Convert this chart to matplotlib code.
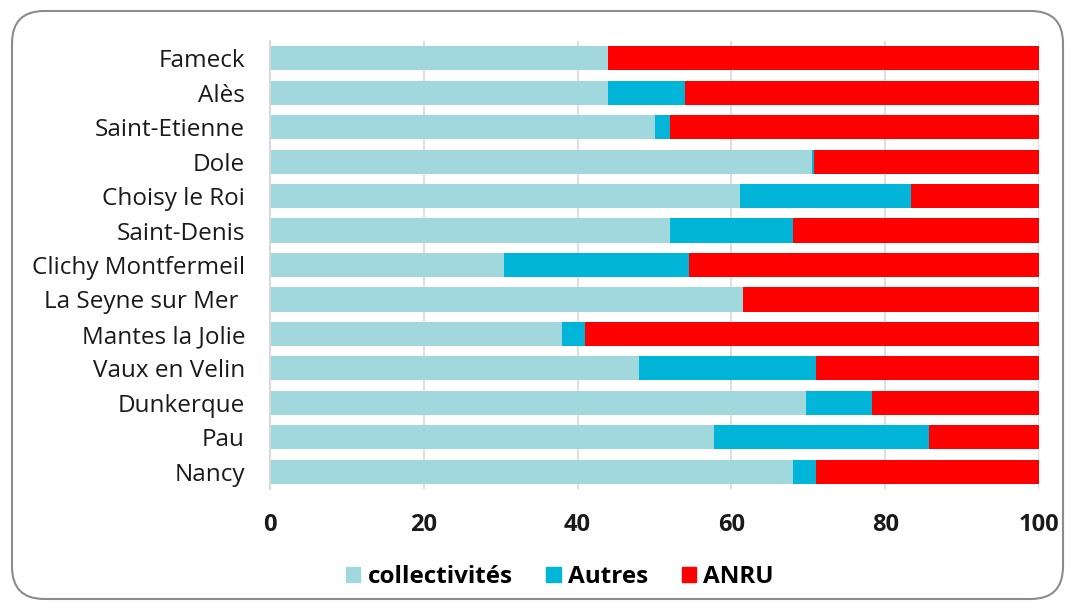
import matplotlib
matplotlib.use("Agg")
import matplotlib.pyplot as plt
from matplotlib.patches import FancyBboxPatch, Patch

plt.rcParams['font.family'] = ['Open Sans', 'DejaVu Sans']

cities = ["Fameck", "Alès", "Saint-Etienne", "Dole", "Choisy le Roi", "Saint-Denis",
          "Clichy Montfermeil", "La Seyne sur Mer ", "Mantes la Jolie", "Vaux en Velin",
          "Dunkerque", "Pau", "Nancy"]
collectivites = [44, 44, 50, 70.5, 61.1, 52, 30.4, 61.5, 38, 48, 69.7, 57.7, 68]
autres = [0, 10, 2, 0.2, 22.2, 16, 24.1, 0, 3, 23, 8.6, 28, 3]
anru = [56, 46, 48, 29.3, 16.7, 32, 45.5, 38.5, 59, 29, 21.7, 14.3, 29]
xticks = [0, 20, 40, 60, 80, 100]

c_coll = "#A0D8DE"
c_aut = "#00B5D8"
c_anru = "#FF0000"

fig = plt.figure(figsize=(10.75, 6.09), dpi=100)
ax = fig.add_axes([270/1075, 1-489/609, (1039-270)/1075, (489-41)/609])

y = list(range(len(cities)))
left2 = [a + b for a, b in zip(collectivites, autres)]
ax.barh(y, collectivites, height=0.7, color=c_coll, label="collectivités", zorder=2)
ax.barh(y, autres, left=collectivites, height=0.7, color=c_aut, label="Autres", zorder=2)
ax.barh(y, anru, left=left2, height=0.7, color=c_anru, label="ANRU", zorder=2)

ax.set_ylim(len(cities) - 0.5, -0.5)
ax.set_xlim(0, 100)
ax.set_yticks(y)
ax.set_yticklabels(cities, fontsize=17.5, color="#1a1a1a")
ax.set_xticks(xticks)
ax.set_xticklabels([str(t) for t in xticks], fontsize=17, fontweight="bold", color="#1a1a1a")
ax.tick_params(axis='y', length=0, pad=18)
ax.tick_params(axis='x', length=0, pad=17)
ax.grid(axis='x', color="#d9d9d9", linewidth=1.2, zorder=0)
for s in ["top", "right", "bottom"]:
    ax.spines[s].set_visible(False)
ax.spines["left"].set_color("#d9d9d9")
ax.spines["left"].set_linewidth(1.5)

handles = [Patch(color=c_coll, label="collectivités"),
           Patch(color=c_aut, label="Autres"),
           Patch(color=c_anru, label="ANRU")]
leg = fig.legend(handles=handles, loc="center", bbox_to_anchor=(560/1075, 1-577/609),
                 ncol=3, frameon=False, handlelength=0.58, handleheight=0.58,
                 handletextpad=0.3, columnspacing=1.4,
                 prop={'size': 17.5, 'weight': 'bold'})

border = FancyBboxPatch((12/1075, 10/609), (1063-12)/1075, (598-10)/609,
                        boxstyle="round,pad=0,rounding_size=0.03",
                        transform=fig.transFigure, fill=False,
                        edgecolor="#8c8c8c", linewidth=1.5, mutation_aspect=1075/609)
fig.patches.append(border)

fig.savefig("out.png", dpi=100)
